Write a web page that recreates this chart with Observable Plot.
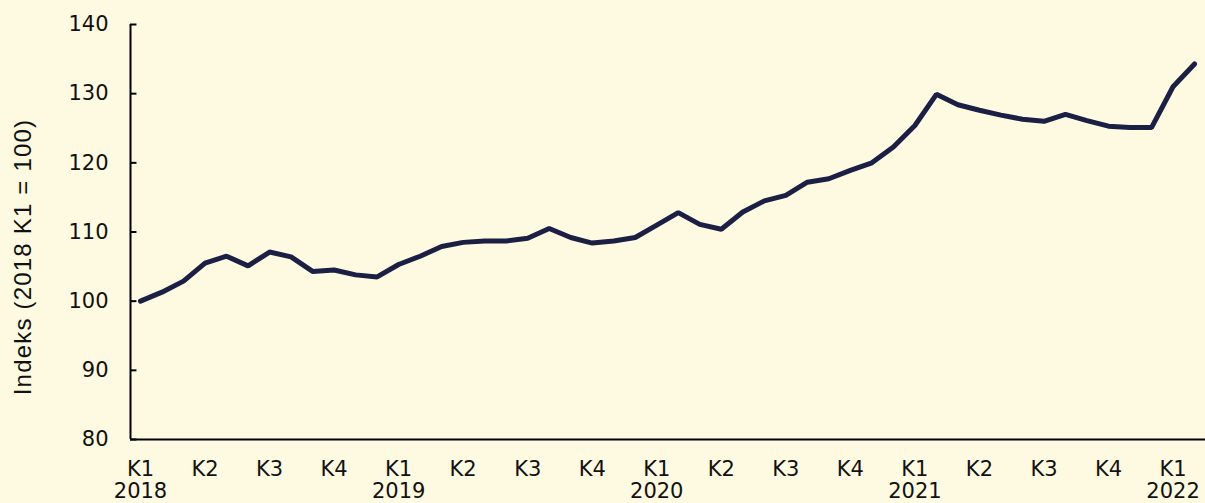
<!DOCTYPE html>
<html><head><meta charset="utf-8">
<script src="https://cdn.jsdelivr.net/npm/d3@7"></script>
<script src="https://cdn.jsdelivr.net/npm/@observablehq/plot@0.6"></script>
<style>html,body{margin:0;padding:0;background:#fef9e1;overflow:hidden;}</style>
</head><body><div id="chart"></div>
<script>
// Monthly index, Jan 2018 .. Feb 2022 (2018 K1 = 100)
const values = [
  100.0, 101.3, 102.9, 105.5, 106.5, 105.1, 107.1, 106.4, 104.3, 104.5, 103.8, 103.5,
  105.3, 106.5, 107.9, 108.5, 108.7, 108.7, 109.1, 110.5, 109.2, 108.4, 108.7, 109.2,
  111.0, 112.8, 111.1, 110.4, 112.9, 114.5, 115.3, 117.2, 117.7, 118.9, 120.0, 122.3,
  125.4, 129.9, 128.4, 127.6, 126.9, 126.3, 126.0, 127.0, 126.1, 125.3, 125.1, 125.1,
  131.0, 134.3
];
const quarterNames = ["K1", "K2", "K3", "K4"];
const years = ["2018", "2019", "2020", "2021", "2022"];
const yTicks = [80, 90, 100, 110, 120, 130, 140];
const yLabel = "Indeks (2018 K1 = 100)";

const data = values.map((v, i) => ({i, v}));
const quarterTicks = [];
for (let i = 0; i < values.length; i += 3) {
  const q = (i / 3) % 4;
  const y = Math.floor(i / 12);
  quarterTicks.push({i, label: q === 0 ? `${quarterNames[q]}\n${years[y]}` : quarterNames[q]});
}
const xMin = -0.465, xMax = 49.51;
const tickLen = 0.3; // in month units (~6px)

const chart = Plot.plot({
  width: 1205,
  height: 503,
  marginLeft: 130,
  marginRight: 0,
  marginTop: 24,
  marginBottom: 64,
  style: {background: "#fef9e1", fontFamily: "'DejaVu Sans', sans-serif", fontSize: "21px", color: "#111"},
  x: {type: "linear", domain: [xMin, xMax], axis: null},
  y: {domain: [80, 140], axis: null},
  marks: [
    Plot.ruleY(yTicks, {x1: xMin, x2: xMin + tickLen, stroke: "#000", strokeWidth: 2}),
    Plot.text(yTicks, {x: xMin, y: d => d, text: d => String(d), textAnchor: "end", dx: -22, fontSize: 21, fill: "#111"}),
    Plot.ruleX([xMin], {stroke: "#000", strokeWidth: 2}),
    Plot.ruleY([80], {stroke: "#000", strokeWidth: 2}),
    Plot.line(data, {x: "i", y: "v", stroke: "#1b1f44", strokeWidth: 5, strokeLinejoin: "miter"}),
    Plot.text(quarterTicks, {x: "i", y: () => 80, text: "label", dy: 20, lineAnchor: "top", lineHeight: 1.08, fontSize: 21, fill: "#111"}),
    Plot.text([yLabel], {frameAnchor: "left", textAnchor: "middle", dx: -107, dy: 25, rotate: -90, fontSize: 24, fontFamily: "'Liberation Sans', Arial, sans-serif", fill: "#111", style: "letter-spacing:1.2px"})
  ]
});
chart.querySelectorAll("text").forEach(t => {});
const lbl = [...chart.querySelectorAll("text")].find(t => t.textContent === yLabel);
if (lbl) lbl.style.letterSpacing = "1.2px";
document.getElementById("chart").appendChild(chart);
</script>
</body></html>
